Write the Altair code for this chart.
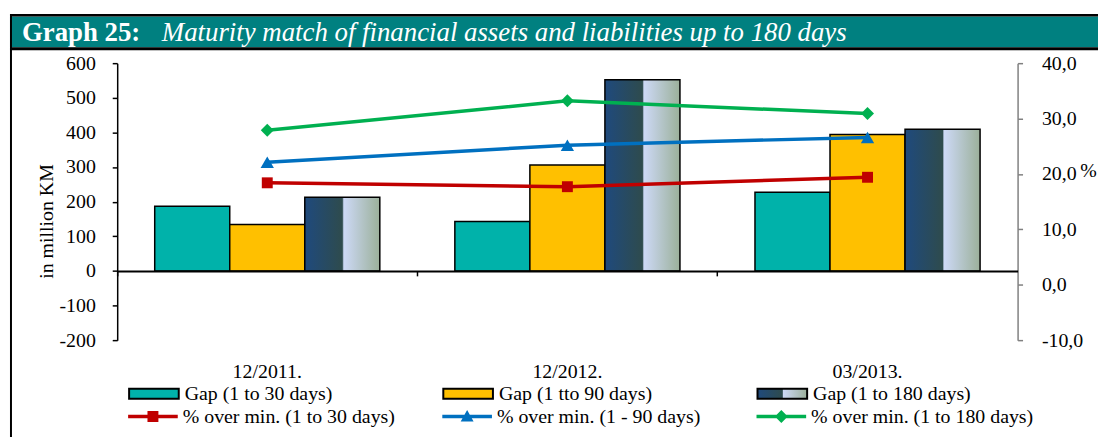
import altair as alt
import pandas as pd

# ---------------- data ----------------
categories = ["12/2011.", "12/2012.", "03/2013."]

bar_series = ["Gap (1 to 30 days)", "Gap (1 tto 90 days)", "Gap (1 to 180 days)"]
gap_30 = [187, 143, 227]
gap_90 = [134, 306, 394]
gap_180 = [213, 552, 409]

line_series = ["% over min. (1 to 30 days)", "% over min. (1 - 90 days)", "% over min. (1 to 180 days)"]
pct_30 = [18.4, 17.7, 19.4]
pct_90 = [22.1, 25.2, 26.6]
pct_180 = [27.9, 33.2, 30.9]

left_ticks = [-200, -100, 0, 100, 200, 300, 400, 500, 600]
right_ticks = [-10, 0, 10, 20, 30, 40]

title_lead = "Graph 25:"
title_text = "Maturity match of financial assets and liabilities up to 180 days"
left_title = "in million KM"
right_title = "%"

# ---------------- styles ----------------
FONT = "Liberation Serif"
FS = 20
TEAL_BAR = "#00b2aa"
YELLOW = "#ffc000"
RED = "#c00000"
BLUE = "#0070c0"
GREEN = "#00b050"
BAND = "#008080"

grad_expr = ("{gradient: 'linear', x1: 0, y1: 0, x2: 1, y2: 0, stops: ["
             "{offset: 0, color: '#1f4a7d'}, {offset: 0.5, color: '#2e4b4d'}, "
             "{offset: 0.52, color: '#cdd9f6'}, {offset: 1, color: '#9bb09a'}]}")

legend_paths = [
    "M-1,-0.07H1V0.07H-1Z M-0.22,-0.22H0.22V0.22H-0.22Z",
    "M-1,-0.07H1V0.07H-1Z M0,-0.26L0.26,0.2H-0.26Z",
    "M-1,-0.07H1V0.07H-1Z M0,-0.26L0.26,0L0,0.26L-0.26,0Z",
]
point_shapes = ["square", "triangle-up", "diamond"]
point_sizes = [121, 180, 170]
line_colors = [RED, BLUE, GREEN]

bars_df = pd.DataFrame({
    "category": categories * 3,
    "series": [s for s in bar_series for _ in categories],
    "value": gap_30 + gap_90 + gap_180,
})
lines_df = pd.DataFrame({
    "category": categories * 3,
    "series": [s for s in line_series for _ in categories],
    "value": pct_30 + pct_90 + pct_180,
})

W, H = 907, 279
x_scale = alt.Scale(domain=categories, paddingInner=0, paddingOuter=0)
left_scale = alt.Scale(domain=[-200, 600], nice=False)
right_scale = alt.Scale(domain=[-10, 40], nice=False)

zero_offset = -(H - H * 600 / 800)

x_axis_zero = alt.Axis(orient="bottom", offset=zero_offset, domainColor="black", domainWidth=2,
                       tickColor="black", tickSize=5, tickWidth=1.5, bandPosition=0,
                       labels=False, title=None, grid=False, zindex=2)
x_axis_labels = alt.Axis(orient="bottom", domain=False, ticks=False, labelAngle=0, labelPadding=22,
                         labelFont=FONT, labelFontSize=FS, labelColor="black", title=None, grid=False)

left_axis = alt.Axis(orient="left", values=left_ticks, domainColor="black", domainWidth=1.5,
                     tickColor="black", tickSize=5, tickWidth=1.5, labelPadding=17,
                     labelExpr="'' + datum.value",
                     labelFont=FONT, labelFontSize=FS, labelColor="black", grid=False,
                     title=left_title, titleFont=FONT, titleFontSize=FS, titleFontWeight="normal",
                     titleColor="black", titleX=-71, titleY=159, titleBaseline="middle", titleAngle=270)
right_axis = alt.Axis(orient="right", values=right_ticks, domainColor="#808080", domainWidth=1.5,
                      tickColor="#808080", tickSize=5, tickWidth=1.5, labelPadding=19,
                      labelExpr="replace(replace(format(datum.value, '.1f'), '.', ','), '\u2212', '-')",
                      labelFont=FONT, labelFontSize=FS, labelColor="black", grid=False,
                      title=right_title, titleFont=FONT, titleFontSize=FS, titleFontWeight="normal",
                      titleColor="black", titleAngle=0, titleX=71, titleY=108,
                      titleBaseline="middle", titleAlign="center")

bar_legend = alt.Legend(
    orient="none", legendX=11, legendY=307, direction="horizontal", columns=3,
    gridAlign="all", columnPadding=97.5, padding=0, title=None,
    symbolType="M-1,-0.2H1V0.2H-1Z", symbolSize=2500,
    symbolStrokeColor="black", symbolStrokeWidth=2, symbolOpacity=1,
    labelFont=FONT, labelFontSize=FS, labelColor="black", labelLimit=400, labelOffset=5,
)
line_legend = alt.Legend(
    orient="none", legendX=11, legendY=331, direction="horizontal", columns=3,
    gridAlign="all", columnPadding=37.5, padding=0, title=None,
    symbolSize=2500, symbolStrokeWidth=0, symbolOpacity=1,
    labelFont=FONT, labelFontSize=FS, labelColor="black", labelLimit=400, labelOffset=5,
)

bars = alt.Chart(bars_df).mark_bar(stroke="black", strokeWidth=1.5).encode(
    x=alt.X("category:N", scale=x_scale, axis=x_axis_zero),
    xOffset=alt.XOffset("series:N", scale=alt.Scale(domain=bar_series, paddingInner=0, paddingOuter=0.5)),
    y=alt.Y("value:Q", scale=left_scale, axis=left_axis),
    y2=alt.datum(0),
    fill=alt.Fill("series:N",
                  scale=alt.Scale(domain=bar_series, range=[TEAL_BAR, YELLOW, {"expr": grad_expr}]),
                  legend=bar_legend),
)

line_color = alt.Color("series:N", scale=alt.Scale(domain=line_series, range=line_colors),
                       legend=line_legend)

lines = alt.Chart(lines_df).mark_line(strokeWidth=3.5).encode(
    x=alt.X("category:N", scale=x_scale, axis=x_axis_labels),
    y=alt.Y("value:Q", scale=right_scale, axis=right_axis),
    color=line_color,
)
point_layers = []
for s, shp, sz in zip(line_series, point_shapes, point_sizes):
    point_layers.append(
        alt.Chart(lines_df).transform_filter(alt.datum.series == s)
        .mark_point(shape=shp, size=sz, filled=True, opacity=1)
        .encode(
            x=alt.X("category:N", scale=x_scale, axis=x_axis_labels),
            y=alt.Y("value:Q", scale=right_scale, axis=right_axis),
            color=line_color,
        )
    )
legend_carrier = alt.Chart(lines_df).mark_point(filled=True, opacity=0).encode(
    x=alt.X("category:N", scale=x_scale, axis=x_axis_labels),
    y=alt.Y("value:Q", scale=right_scale, axis=right_axis),
    color=line_color,
    shape=alt.Shape("series:N", scale=alt.Scale(domain=line_series, range=legend_paths), legend=line_legend),
)

one = pd.DataFrame({"t": [0]})
band = alt.Chart(one).mark_rect(color=BAND).encode(
    x=alt.value(-108), x2=alt.value(990), y=alt.value(-47), y2=alt.value(-16))
top_line = alt.Chart(one).mark_rect(color="black").encode(
    x=alt.value(-108), x2=alt.value(990), y=alt.value(-49.5), y2=alt.value(-47))
band_line = alt.Chart(one).mark_rect(color="black").encode(
    x=alt.value(-108), x2=alt.value(990), y=alt.value(-16), y2=alt.value(-13))
left_line = alt.Chart(one).mark_rect(color="black").encode(
    x=alt.value(-108), x2=alt.value(-106), y=alt.value(-49.5), y2=alt.value(380))
lead = alt.Chart(one).mark_text(font=FONT, fontSize=27, fontWeight="bold", color="white",
                                align="left", baseline="middle").encode(
    x=alt.value(-96), y=alt.value(-30), text=alt.value(title_lead))
ttl = alt.Chart(one).mark_text(font=FONT, fontSize=27, fontStyle="italic", color="white",
                               align="left", baseline="middle").encode(
    x=alt.value(45), y=alt.value(-30), text=alt.value(title_text))

line_group = alt.layer(lines, *point_layers, legend_carrier)
main = alt.layer(bars, line_group).resolve_scale(y="independent").resolve_axis(x="independent")

chart = alt.layer(band, top_line, band_line, left_line, lead, ttl, main).properties(
    width=W, height=H,
    autosize=alt.AutoSizeParams(type="none"),
    padding={"left": 110, "top": 54, "right": 81, "bottom": 96},
    background="white",
).configure_view(strokeWidth=0)

chart.save("out.html", embed_options={"renderer": "svg", "actions": False})
